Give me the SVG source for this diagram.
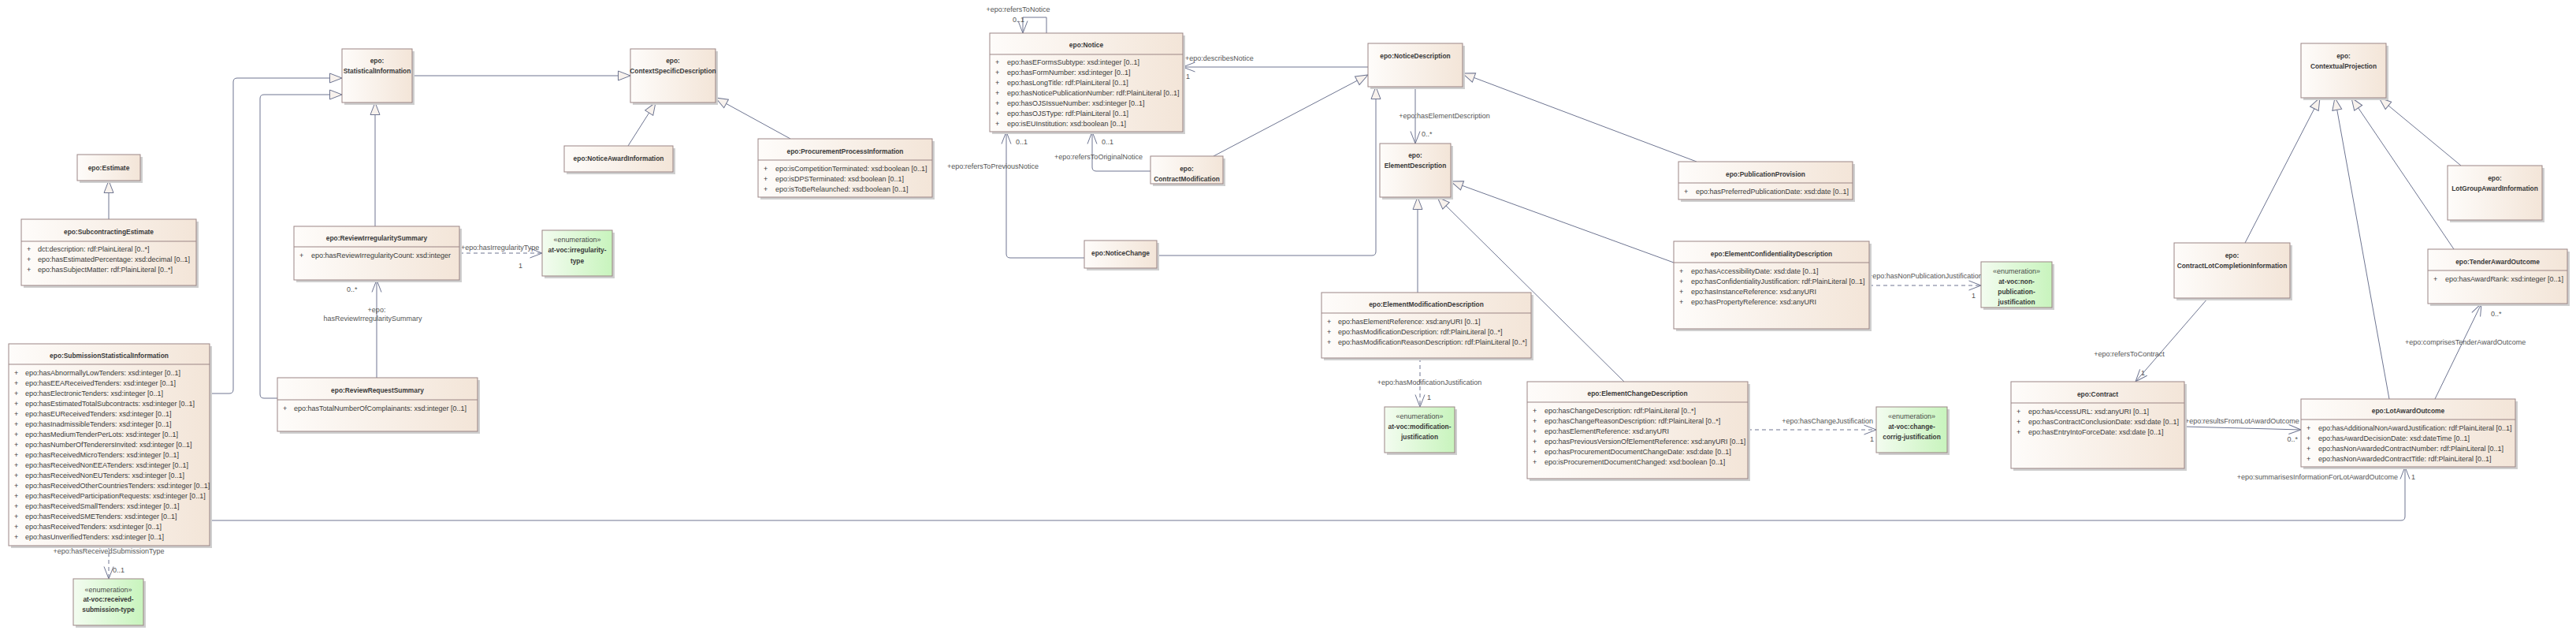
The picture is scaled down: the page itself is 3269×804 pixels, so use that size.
<svg xmlns="http://www.w3.org/2000/svg" width="3269" height="804" viewBox="0 0 3269 804">
<defs>
<linearGradient id="gc" x1="0" y1="0" x2="1" y2="0"><stop offset="0" stop-color="#FEFCFA"/><stop offset="1" stop-color="#F3E5D8"/></linearGradient>
<linearGradient id="ge" x1="0" y1="0" x2="1" y2="0"><stop offset="0" stop-color="#F3FCF0"/><stop offset="1" stop-color="#C8F4BD"/></linearGradient>
<marker id="gen" markerUnits="userSpaceOnUse" markerWidth="18" markerHeight="14" viewBox="0 0 18 14" refX="16.5" refY="7" orient="auto"><path d="M1,1 L16.5,7 L1,13 Z" fill="#F8F2ED" stroke="#6E7591" stroke-width="1"/></marker>
<marker id="arr" markerUnits="userSpaceOnUse" markerWidth="18" markerHeight="14" viewBox="0 0 18 14" refX="16.5" refY="7" orient="auto"><path d="M1,1 L16.5,7 L1,13" fill="none" stroke="#6E7591" stroke-width="1"/></marker>
</defs>
<style>
.sh{fill:#CFCFCF}
.cls{fill:url(#gc);stroke:#9B8585;stroke-width:1}
.enm{fill:url(#ge);stroke:#9B8585;stroke-width:1}
.sep{stroke:#9B8585;stroke-width:1}
.t{font-family:"Liberation Sans",Arial,sans-serif;font-size:8.4px;font-weight:bold;fill:#3A3A3A;text-anchor:middle}
.e{font-family:"Liberation Sans",Arial,sans-serif;font-size:9px;fill:#4A4A4A;text-anchor:middle}
.a{font-family:"Liberation Sans",Arial,sans-serif;font-size:9px;fill:#3A3A3A}
.l{font-family:"Liberation Sans",Arial,sans-serif;font-size:9px;fill:#555}
.m{text-anchor:middle}
.r{text-anchor:end}
.c{fill:none;stroke:#6E7591;stroke-width:1}
.d{stroke-dasharray:5,4}
.g{marker-end:url(#gen)}
.o{marker-end:url(#arr)}
</style>
<rect width="3269" height="804" fill="#FFFFFF"/>

<g id="connectors">
<path class="c g" d="M138,278 V229"/>
<path class="c g" d="M266,499 H291 Q296,499 296,494 V104 Q296,99 301,99 H434"/>
<path class="c g" d="M352,505 H335 Q330,505 330,500 V125 Q330,120 335,120 H434"/>
<path class="c g" d="M476,287 V130"/>
<path class="c g" d="M523,96 H800"/>
<path class="c g" d="M797,185 L832,130"/>
<path class="c g" d="M1003,176 L908,124"/>
<path class="c g" d="M1540,198 L1736,95"/>
<path class="c g" d="M1468,324 H1741 Q1746,324 1746,319 V110"/>
<path class="c g" d="M2153,205 L1856,93"/>
<path class="c g" d="M1799,371 V250"/>
<path class="c g" d="M2061,484 L1824,250"/>
<path class="c g" d="M2124,333 L1841,230"/>
<path class="c g" d="M2849,308 L2944,124"/>
<path class="c g" d="M3032,506 L2963,124"/>
<path class="c g" d="M3114,316 L2984,124"/>
<path class="c g" d="M3123,210 L3019,124"/>

<path class="c o" d="M478,479 V355"/>
<path class="c d o" d="M583,321 H688"/>
<path class="c d o" d="M138,692 V734"/>
<path class="c o" d="M1328,42 V22 H1298 V42"/>
<path class="c o" d="M1736,85 H1501"/>
<path class="c o" d="M1376,327 H1282 Q1277,327 1277,322 V167"/>
<path class="c o" d="M1460,217 H1391 Q1386,217 1386,212 V167"/>
<path class="c o" d="M1796,110 V182"/>
<path class="c d o" d="M1802,454 V516"/>
<path class="c d o" d="M2218,545 H2381"/>
<path class="c d o" d="M2372,362 H2514"/>
<path class="c o" d="M2802,378 L2710,484"/>
<path class="c o" d="M2772,541 L2920,545"/>
<path class="c o" d="M3090,506 L3149,385"/>
<path class="c o" d="M266,660 H3047 Q3052,660 3052,655 V592"/>

<text class="l m" x="138" y="702">+epo:hasReceivedSubmissionType</text>
<text class="l" x="143" y="726">0..1</text>
<text class="l" x="585" y="317">+epo:hasIrregularityType</text>
<text class="l" x="658" y="340">1</text>
<text class="l" x="440" y="370">0..*</text>
<text class="l m" x="478" y="396">+epo:</text>
<text class="l m" x="473" y="407">hasReviewIrregularitySummary</text>
<text class="l m" x="1292" y="15">+epo:refersToNotice</text>
<text class="l" x="1285" y="28">0..1</text>
<text class="l" x="1504" y="77">+epo:describesNotice</text>
<text class="l" x="1505" y="100">1</text>
<text class="l" x="1289" y="183">0..1</text>
<text class="l m" x="1260" y="214">+epo:refersToPreviousNotice</text>
<text class="l" x="1398" y="183">0..1</text>
<text class="l m" x="1394" y="202">+epo:refersToOriginalNotice</text>
<text class="l m" x="1833" y="150">+epo:hasElementDescription</text>
<text class="l" x="1804" y="173">0..*</text>
<text class="l m" x="1814" y="488">+epo:hasModificationJustification</text>
<text class="l" x="1811" y="507">1</text>
<text class="l r" x="2377" y="537">+epo:hasChangeJustification</text>
<text class="l r" x="2378" y="560">1</text>
<text class="l" x="2371" y="353">+epo:hasNonPublicationJustification</text>
<text class="l" x="2502" y="378">1</text>
<text class="l m" x="2702" y="452">+epo:refersToContract</text>
<text class="l" x="2717" y="476">1</text>
<text class="l" x="2773" y="537">+epo:resultsFromLotAwardOutcome</text>
<text class="l r" x="2916" y="560">0..*</text>
<text class="l" x="3052" y="437">+epo:comprisesTenderAwardOutcome</text>
<text class="l" x="3161" y="401">0..*</text>
<text class="l r" x="3043" y="608">+epo:summarisesInformationForLotAwardOutcome</text>
<text class="l" x="3060" y="608">1</text>
</g>

<g id="n-estimate">
<rect class="sh" x="101" y="199" width="80" height="33"/>
<rect class="cls" x="98" y="196" width="80" height="33"/>
<text class="t" x="138" y="216">epo:Estimate</text>
</g>

<g id="n-subcontractingestimate">
<rect class="sh" x="30" y="281" width="222" height="84"/>
<rect class="cls" x="27" y="278" width="222" height="84"/>
<line class="sep" x1="27" y1="306" x2="249" y2="306"/>
<text class="t" x="138" y="297">epo:SubcontractingEstimate</text>
<text class="a" y="319"><tspan x="34">+</tspan><tspan x="48">dct:description: rdf:PlainLiteral [0..*]</tspan></text>
<text class="a" y="332"><tspan x="34">+</tspan><tspan x="48">epo:hasEstimatedPercentage: xsd:decimal [0..1]</tspan></text>
<text class="a" y="345"><tspan x="34">+</tspan><tspan x="48">epo:hasSubjectMatter: rdf:PlainLiteral [0..*]</tspan></text>
</g>

<g id="n-submissionstatisticalinformation">
<rect class="sh" x="14" y="439" width="255" height="256"/>
<rect class="cls" x="11" y="436" width="255" height="256"/>
<line class="sep" x1="11" y1="462" x2="266" y2="462"/>
<text class="t" x="138.5" y="454">epo:SubmissionStatisticalInformation</text>
<text class="a" y="476"><tspan x="18">+</tspan><tspan x="32">epo:hasAbnormallyLowTenders: xsd:integer [0..1]</tspan></text>
<text class="a" y="489"><tspan x="18">+</tspan><tspan x="32">epo:hasEEAReceivedTenders: xsd:integer [0..1]</tspan></text>
<text class="a" y="502"><tspan x="18">+</tspan><tspan x="32">epo:hasElectronicTenders: xsd:integer [0..1]</tspan></text>
<text class="a" y="515"><tspan x="18">+</tspan><tspan x="32">epo:hasEstimatedTotalSubcontracts: xsd:integer [0..1]</tspan></text>
<text class="a" y="528"><tspan x="18">+</tspan><tspan x="32">epo:hasEUReceivedTenders: xsd:integer [0..1]</tspan></text>
<text class="a" y="541"><tspan x="18">+</tspan><tspan x="32">epo:hasInadmissibleTenders: xsd:integer [0..1]</tspan></text>
<text class="a" y="554"><tspan x="18">+</tspan><tspan x="32">epo:hasMediumTenderPerLots: xsd:integer [0..1]</tspan></text>
<text class="a" y="567"><tspan x="18">+</tspan><tspan x="32">epo:hasNumberOfTenderersInvited: xsd:integer [0..1]</tspan></text>
<text class="a" y="580"><tspan x="18">+</tspan><tspan x="32">epo:hasReceivedMicroTenders: xsd:integer [0..1]</tspan></text>
<text class="a" y="593"><tspan x="18">+</tspan><tspan x="32">epo:hasReceivedNonEEATenders: xsd:integer [0..1]</tspan></text>
<text class="a" y="606"><tspan x="18">+</tspan><tspan x="32">epo:hasReceivedNonEUTenders: xsd:integer [0..1]</tspan></text>
<text class="a" y="619"><tspan x="18">+</tspan><tspan x="32">epo:hasReceivedOtherCountriesTenders: xsd:integer [0..1]</tspan></text>
<text class="a" y="632"><tspan x="18">+</tspan><tspan x="32">epo:hasReceivedParticipationRequests: xsd:integer [0..1]</tspan></text>
<text class="a" y="645"><tspan x="18">+</tspan><tspan x="32">epo:hasReceivedSmallTenders: xsd:integer [0..1]</tspan></text>
<text class="a" y="658"><tspan x="18">+</tspan><tspan x="32">epo:hasReceivedSMETenders: xsd:integer [0..1]</tspan></text>
<text class="a" y="671"><tspan x="18">+</tspan><tspan x="32">epo:hasReceivedTenders: xsd:integer [0..1]</tspan></text>
<text class="a" y="684"><tspan x="18">+</tspan><tspan x="32">epo:hasUnverifiedTenders: xsd:integer [0..1]</tspan></text>
</g>

<g id="n-enum-received-submission-type">
<rect class="sh" x="96" y="737" width="89" height="59"/>
<rect class="enm" x="93" y="734" width="89" height="59"/>
<text class="e" x="137.5" y="751">«enumeration»</text>
<text class="t" x="137.5" y="763">at-voc:received-</text>
<text class="t" x="137.5" y="776">submission-type</text>
</g>

<g id="n-statisticalinformation">
<rect class="sh" x="437" y="65" width="89" height="68"/>
<rect class="cls" x="434" y="62" width="89" height="68"/>
<text class="t" x="478.5" y="80">epo:</text>
<text class="t" x="478.5" y="93">StatisticalInformation</text>
</g>

<g id="n-contextspecificdescription">
<rect class="sh" x="803" y="65" width="108" height="68"/>
<rect class="cls" x="800" y="62" width="108" height="68"/>
<text class="t" x="854" y="80">epo:</text>
<text class="t" x="854" y="93">ContextSpecificDescription</text>
</g>

<g id="n-noticeawardinformation">
<rect class="sh" x="719" y="188" width="138" height="33"/>
<rect class="cls" x="716" y="185" width="138" height="33"/>
<text class="t" x="785" y="204">epo:NoticeAwardInformation</text>
</g>

<g id="n-procurementprocessinformation">
<rect class="sh" x="965" y="179" width="221" height="74"/>
<rect class="cls" x="962" y="176" width="221" height="74"/>
<line class="sep" x1="962" y1="203" x2="1183" y2="203"/>
<text class="t" x="1072.5" y="195">epo:ProcurementProcessInformation</text>
<text class="a" y="217"><tspan x="969">+</tspan><tspan x="984">epo:isCompetitionTerminated: xsd:boolean [0..1]</tspan></text>
<text class="a" y="230"><tspan x="969">+</tspan><tspan x="984">epo:isDPSTerminated: xsd:boolean [0..1]</tspan></text>
<text class="a" y="243"><tspan x="969">+</tspan><tspan x="984">epo:isToBeRelaunched: xsd:boolean [0..1]</tspan></text>
</g>

<g id="n-reviewirregularitysummary">
<rect class="sh" x="376" y="290" width="210" height="68"/>
<rect class="cls" x="373" y="287" width="210" height="68"/>
<line class="sep" x1="373" y1="313" x2="583" y2="313"/>
<text class="t" x="478" y="305">epo:ReviewIrregularitySummary</text>
<text class="a" y="327"><tspan x="380">+</tspan><tspan x="395">epo:hasReviewIrregularityCount: xsd:integer</tspan></text>
</g>

<g id="n-enum-irregularity-type">
<rect class="sh" x="691" y="295" width="89" height="58"/>
<rect class="enm" x="688" y="292" width="89" height="58"/>
<text class="e" x="732.5" y="307">«enumeration»</text>
<text class="t" x="732.5" y="320">at-voc:irregularity-</text>
<text class="t" x="732.5" y="334">type</text>
</g>

<g id="n-reviewrequestsummary">
<rect class="sh" x="355" y="482" width="254" height="68"/>
<rect class="cls" x="352" y="479" width="254" height="68"/>
<line class="sep" x1="352" y1="507" x2="606" y2="507"/>
<text class="t" x="479" y="498">epo:ReviewRequestSummary</text>
<text class="a" y="521"><tspan x="359">+</tspan><tspan x="373">epo:hasTotalNumberOfComplainants: xsd:integer [0..1]</tspan></text>
</g>

<g id="n-notice">
<rect class="sh" x="1259" y="45" width="245" height="125"/>
<rect class="cls" x="1256" y="42" width="245" height="125"/>
<line class="sep" x1="1256" y1="69" x2="1501" y2="69"/>
<text class="t" x="1378.5" y="60">epo:Notice</text>
<text class="a" y="82"><tspan x="1263">+</tspan><tspan x="1278">epo:hasEFormsSubtype: xsd:integer [0..1]</tspan></text>
<text class="a" y="95"><tspan x="1263">+</tspan><tspan x="1278">epo:hasFormNumber: xsd:integer [0..1]</tspan></text>
<text class="a" y="108"><tspan x="1263">+</tspan><tspan x="1278">epo:hasLongTitle: rdf:PlainLiteral [0..1]</tspan></text>
<text class="a" y="121"><tspan x="1263">+</tspan><tspan x="1278">epo:hasNoticePublicationNumber: rdf:PlainLiteral [0..1]</tspan></text>
<text class="a" y="134"><tspan x="1263">+</tspan><tspan x="1278">epo:hasOJSIssueNumber: xsd:integer [0..1]</tspan></text>
<text class="a" y="147"><tspan x="1263">+</tspan><tspan x="1278">epo:hasOJSType: rdf:PlainLiteral [0..1]</tspan></text>
<text class="a" y="160"><tspan x="1263">+</tspan><tspan x="1278">epo:isEUInstitution: xsd:boolean [0..1]</tspan></text>
</g>

<g id="n-noticechange">
<rect class="sh" x="1379" y="308" width="92" height="35"/>
<rect class="cls" x="1376" y="305" width="92" height="35"/>
<text class="t" x="1422" y="324">epo:NoticeChange</text>
</g>

<g id="n-contractmodification">
<rect class="sh" x="1463" y="201" width="92" height="35"/>
<rect class="cls" x="1460" y="198" width="92" height="35"/>
<text class="t" x="1506" y="217">epo:</text>
<text class="t" x="1506" y="230">ContractModification</text>
</g>

<g id="n-noticedescription">
<rect class="sh" x="1739" y="58" width="120" height="55"/>
<rect class="cls" x="1736" y="55" width="120" height="55"/>
<text class="t" x="1796" y="74">epo:NoticeDescription</text>
</g>

<g id="n-elementdescription">
<rect class="sh" x="1754" y="185" width="90" height="68"/>
<rect class="cls" x="1751" y="182" width="90" height="68"/>
<text class="t" x="1796" y="200">epo:</text>
<text class="t" x="1796" y="213">ElementDescription</text>
</g>

<g id="n-publicationprovision">
<rect class="sh" x="2133" y="208" width="221" height="48"/>
<rect class="cls" x="2130" y="205" width="221" height="48"/>
<line class="sep" x1="2130" y1="232" x2="2351" y2="232"/>
<text class="t" x="2240.5" y="224">epo:PublicationProvision</text>
<text class="a" y="246"><tspan x="2137">+</tspan><tspan x="2152">epo:hasPreferredPublicationDate: xsd:date [0..1]</tspan></text>
</g>

<g id="n-elementconfidentialitydescription">
<rect class="sh" x="2127" y="309" width="248" height="111"/>
<rect class="cls" x="2124" y="306" width="248" height="111"/>
<line class="sep" x1="2124" y1="333" x2="2372" y2="333"/>
<text class="t" x="2248" y="325">epo:ElementConfidentialityDescription</text>
<text class="a" y="347"><tspan x="2131">+</tspan><tspan x="2146">epo:hasAccessibilityDate: xsd:date [0..1]</tspan></text>
<text class="a" y="360"><tspan x="2131">+</tspan><tspan x="2146">epo:hasConfidentialityJustification: rdf:PlainLiteral [0..1]</tspan></text>
<text class="a" y="373"><tspan x="2131">+</tspan><tspan x="2146">epo:hasInstanceReference: xsd:anyURI</tspan></text>
<text class="a" y="386"><tspan x="2131">+</tspan><tspan x="2146">epo:hasPropertyReference: xsd:anyURI</tspan></text>
</g>

<g id="n-enum-non-publication-justification">
<rect class="sh" x="2517" y="335" width="90" height="58"/>
<rect class="enm" x="2514" y="332" width="90" height="58"/>
<text class="e" x="2559" y="347">«enumeration»</text>
<text class="t" x="2559" y="360">at-voc:non-</text>
<text class="t" x="2559" y="373">publication-</text>
<text class="t" x="2559" y="386">justification</text>
</g>

<g id="n-elementmodificationdescription">
<rect class="sh" x="1680" y="374" width="266" height="83"/>
<rect class="cls" x="1677" y="371" width="266" height="83"/>
<line class="sep" x1="1677" y1="397" x2="1943" y2="397"/>
<text class="t" x="1810" y="389">epo:ElementModificationDescription</text>
<text class="a" y="411"><tspan x="1684">+</tspan><tspan x="1698">epo:hasElementReference: xsd:anyURI [0..1]</tspan></text>
<text class="a" y="424"><tspan x="1684">+</tspan><tspan x="1698">epo:hasModificationDescription: rdf:PlainLiteral [0..*]</tspan></text>
<text class="a" y="437"><tspan x="1684">+</tspan><tspan x="1698">epo:hasModificationReasonDescription: rdf:PlainLiteral [0..*]</tspan></text>
</g>

<g id="n-enum-modification-justification">
<rect class="sh" x="1760" y="519" width="89" height="58"/>
<rect class="enm" x="1757" y="516" width="89" height="58"/>
<text class="e" x="1801.5" y="531">«enumeration»</text>
<text class="t" x="1801.5" y="544">at-voc:modification-</text>
<text class="t" x="1801.5" y="557">justification</text>
</g>

<g id="n-elementchangedescription">
<rect class="sh" x="1941" y="487" width="280" height="123"/>
<rect class="cls" x="1938" y="484" width="280" height="123"/>
<line class="sep" x1="1938" y1="510" x2="2218" y2="510"/>
<text class="t" x="2078" y="502">epo:ElementChangeDescription</text>
<text class="a" y="524"><tspan x="1945">+</tspan><tspan x="1960">epo:hasChangeDescription: rdf:PlainLiteral [0..*]</tspan></text>
<text class="a" y="537"><tspan x="1945">+</tspan><tspan x="1960">epo:hasChangeReasonDescription: rdf:PlainLiteral [0..*]</tspan></text>
<text class="a" y="550"><tspan x="1945">+</tspan><tspan x="1960">epo:hasElementReference: xsd:anyURI</tspan></text>
<text class="a" y="563"><tspan x="1945">+</tspan><tspan x="1960">epo:hasPreviousVersionOfElementReference: xsd:anyURI [0..1]</tspan></text>
<text class="a" y="576"><tspan x="1945">+</tspan><tspan x="1960">epo:hasProcurementDocumentChangeDate: xsd:date [0..1]</tspan></text>
<text class="a" y="589"><tspan x="1945">+</tspan><tspan x="1960">epo:isProcurementDocumentChanged: xsd:boolean [0..1]</tspan></text>
</g>

<g id="n-enum-change-corrig-justification">
<rect class="sh" x="2384" y="519" width="90" height="58"/>
<rect class="enm" x="2381" y="516" width="90" height="58"/>
<text class="e" x="2426" y="531">«enumeration»</text>
<text class="t" x="2426" y="544">at-voc:change-</text>
<text class="t" x="2426" y="557">corrig-justification</text>
</g>

<g id="n-contextualprojection">
<rect class="sh" x="2923" y="58" width="108" height="69"/>
<rect class="cls" x="2920" y="55" width="108" height="69"/>
<text class="t" x="2974" y="74">epo:</text>
<text class="t" x="2974" y="87">ContextualProjection</text>
</g>

<g id="n-contractlotcompletioninformation">
<rect class="sh" x="2762" y="311" width="147" height="70"/>
<rect class="cls" x="2759" y="308" width="147" height="70"/>
<text class="t" x="2832.5" y="327">epo:</text>
<text class="t" x="2832.5" y="340">ContractLotCompletionInformation</text>
</g>

<g id="n-lotgroupawardinformation">
<rect class="sh" x="3109" y="213" width="120" height="69"/>
<rect class="cls" x="3106" y="210" width="120" height="69"/>
<text class="t" x="3166" y="229">epo:</text>
<text class="t" x="3166" y="242">LotGroupAwardInformation</text>
</g>

<g id="n-tenderawardoutcome">
<rect class="sh" x="3084" y="319" width="177" height="69"/>
<rect class="cls" x="3081" y="316" width="177" height="69"/>
<line class="sep" x1="3081" y1="343" x2="3258" y2="343"/>
<text class="t" x="3169.5" y="335">epo:TenderAwardOutcome</text>
<text class="a" y="357"><tspan x="3088">+</tspan><tspan x="3103">epo:hasAwardRank: xsd:integer [0..1]</tspan></text>
</g>

<g id="n-contract">
<rect class="sh" x="2555" y="487" width="220" height="110"/>
<rect class="cls" x="2552" y="484" width="220" height="110"/>
<line class="sep" x1="2552" y1="511" x2="2772" y2="511"/>
<text class="t" x="2662" y="503">epo:Contract</text>
<text class="a" y="525"><tspan x="2559">+</tspan><tspan x="2574">epo:hasAccessURL: xsd:anyURI [0..1]</tspan></text>
<text class="a" y="538"><tspan x="2559">+</tspan><tspan x="2574">epo:hasContractConclusionDate: xsd:date [0..1]</tspan></text>
<text class="a" y="551"><tspan x="2559">+</tspan><tspan x="2574">epo:hasEntryIntoForceDate: xsd:date [0..1]</tspan></text>
</g>

<g id="n-lotawardoutcome">
<rect class="sh" x="2923" y="509" width="272" height="86"/>
<rect class="cls" x="2920" y="506" width="272" height="86"/>
<line class="sep" x1="2920" y1="532" x2="3192" y2="532"/>
<text class="t" x="3056" y="524">epo:LotAwardOutcome</text>
<text class="a" y="546"><tspan x="2927">+</tspan><tspan x="2942">epo:hasAdditionalNonAwardJustification: rdf:PlainLiteral [0..1]</tspan></text>
<text class="a" y="559"><tspan x="2927">+</tspan><tspan x="2942">epo:hasAwardDecisionDate: xsd:dateTime [0..1]</tspan></text>
<text class="a" y="572"><tspan x="2927">+</tspan><tspan x="2942">epo:hasNonAwardedContractNumber: rdf:PlainLiteral [0..1]</tspan></text>
<text class="a" y="585"><tspan x="2927">+</tspan><tspan x="2942">epo:hasNonAwardedContractTitle: rdf:PlainLiteral [0..1]</tspan></text>
</g>
</svg>
